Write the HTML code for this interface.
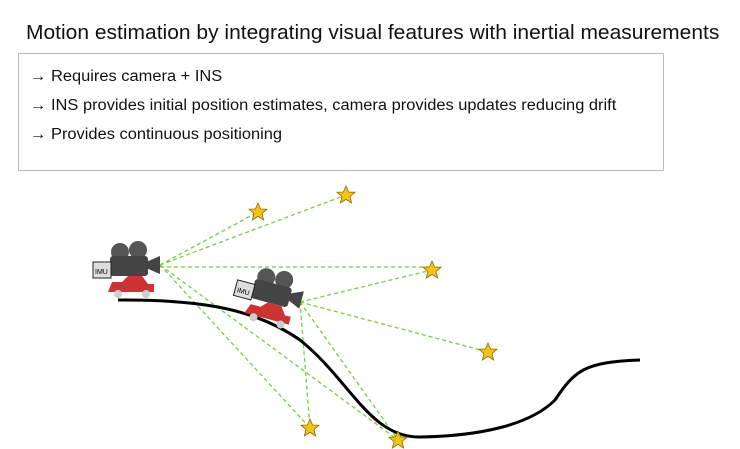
<!DOCTYPE html>
<html><head><style>
body{margin:0;width:740px;height:449px;background:#fff;overflow:hidden;font-family:"Liberation Sans",sans-serif}
.t{position:absolute;left:26px;top:22px;font-size:20px;color:#111;white-space:nowrap;transform:scaleX(1.05);transform-origin:left}
.box{position:absolute;left:18px;top:53px;width:646px;height:118px;border:1px solid #bbb;box-sizing:border-box}
.l{position:absolute;left:30px;font-size:15.5px;color:#111;white-space:nowrap;transform:scaleX(1.06);transform-origin:left}
</style></head><body>
<div class="t">Motion estimation by integrating visual features with inertial measurements</div>
<div class="box"></div>
<div class="l" style="top:68px">→ Requires camera + INS</div>
<div class="l" style="top:97px">→ INS provides initial position estimates, camera provides updates reducing drift</div>
<div class="l" style="top:126px">→ Provides continuous positioning</div>
<svg width="740" height="449" style="position:absolute;left:0;top:0">
<g stroke="#7c4" stroke-width="1.3" stroke-dasharray="4,3" fill="none">
<line x1="160" y1="265" x2="258" y2="212"/><line x1="160" y1="265" x2="346" y2="195"/>
<line x1="160" y1="267" x2="432" y2="267"/><line x1="160" y1="265" x2="310" y2="428"/>
<line x1="160" y1="265" x2="398" y2="440"/>
<line x1="300" y1="302" x2="432" y2="270"/><line x1="300" y1="302" x2="488" y2="352"/>
<line x1="300" y1="302" x2="310" y2="428"/><line x1="300" y1="302" x2="398" y2="440"/>
</g>
<path d="M118,300 C190,300 250,305 300,340 C350,380 370,438 420,437 C480,436 530,425 555,400 C575,370 585,362 640,360" stroke="#000" stroke-width="3" fill="none"/>
<g fill="#f6c21a" stroke="#8a6a00" stroke-width="0.8">
<polygon id="s" points="0,-9 2.6,-3 9,-2.8 4,1.6 5.6,8 0,4.4 -5.6,8 -4,1.6 -9,-2.8 -2.6,-3" transform="translate(258,212)"/>
<use href="#s" transform="translate(88,-17)"/><use href="#s" transform="translate(174,58)"/>
<use href="#s" transform="translate(230,140)"/><use href="#s" transform="translate(52,216)"/>
<use href="#s" transform="translate(140,228)"/>
</g>
<g id="c">
<circle cx="120" cy="252" r="9" fill="#555"/><circle cx="138" cy="250" r="9" fill="#555"/>
<rect x="110" y="256" width="38" height="20" rx="3" fill="#444"/>
<polygon points="146,262 160,256 160,274 146,268" fill="#444"/>
<path d="M108,292 l4,-10 h10 l6,-6 h14 l6,8 h6 v8 z" fill="#c33"/>
<circle cx="118" cy="294" r="4" fill="#ccc"/><circle cx="146" cy="294" r="4" fill="#ccc"/>
<rect x="93" y="262" width="18" height="16" fill="#ddd" stroke="#222"/>
<text x="95" y="274" font-size="7" font-family="Liberation Sans">IMU</text>
</g>
<use href="#c" transform="translate(140,27) rotate(15 130 275)"/>
</svg>
</body></html>
